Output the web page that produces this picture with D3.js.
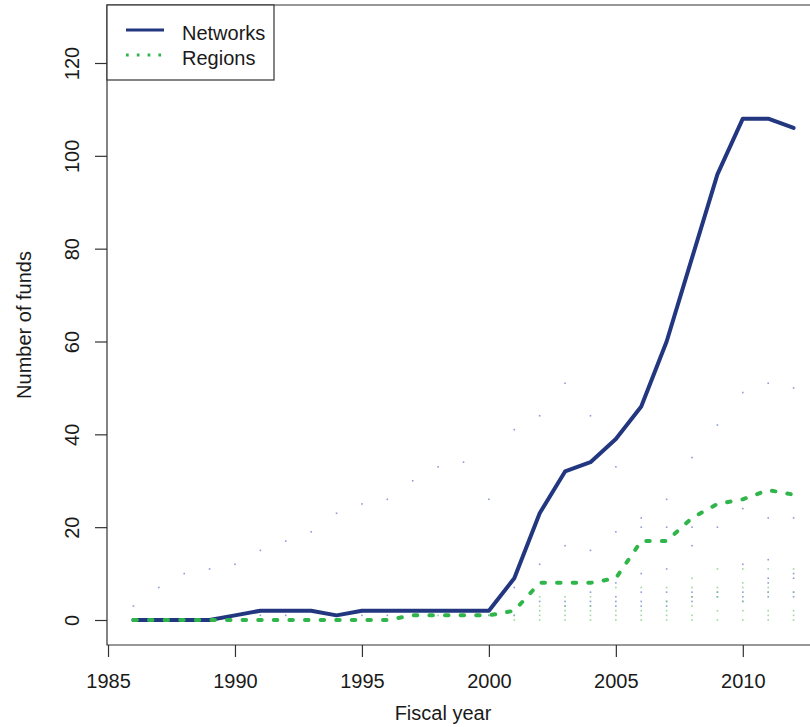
<!DOCTYPE html>
<html>
<head>
<meta charset="utf-8">
<script src="https://cdn.jsdelivr.net/npm/d3@7"></script>
<style>
  html, body { margin: 0; padding: 0; background: #fff; }
  svg { display: block; font-family: "Liberation Sans", Arial, sans-serif; }
</style>
</head>
<body>
<svg id="chart" width="810" height="727"></svg>
<script>
// ---- data ----
const years = d3.range(1986, 2013);
const networks = [0,0,0,0,1,2,2,2,1,2,2,2,2,2,2,9,23,32,34,39,46,60,78,96,108,108,106];
const regions  = [0,0,0,0,0,0,0,0,0,0,0,1,1,1,1,2,8,8,8,9,17,17,22,25,26,28,27];
const seriesNames = ["Networks", "Regions"];
const xTicks = [1985, 1990, 1995, 2000, 2005, 2010];
const yTicks = [0, 20, 40, 60, 80, 100, 120];
// faint individual points
const networkPoints = [
  [1986,3],[1987,7],[1988,10],[1989,11],[1990,12],[1991,15],[1992,17],[1993,19],[1994,23],[1995,25],
  [1996,26],[1997,30],[1998,33],[1999,34],[2000,26],[2001,41],[2002,44],[2003,51],[2004,44],[2005,33],
  [2006,22],[2007,26],[2008,35],[2009,42],[2010,49],[2011,51],[2012,50],
  [2001,7],[2002,12],[2003,16],[2004,15],[2005,19],[2006,20],[2007,20],[2008,16],[2009,20],[2010,24],[2011,22],[2012,22],
  [2006,10],[2007,11],[2008,20],[2010,12],[2011,13],[2011,9],[2012,10],
  [1991,1],[1992,1],[1995,1],[1996,1],[1999,1],[2000,1],[2001,1],
  [2002,4],[2003,4],[2003,3],[2004,6],[2004,4],[2004,3],[2005,8],[2005,5],[2005,4],[2005,3],
  [2006,6],[2006,4],[2006,3],[2007,6],[2007,4],[2007,3],[2008,6],[2008,5],[2008,4],[2009,6],[2009,5],
  [2010,6],[2010,5],[2010,4],[2011,6],[2011,5],[2011,8],[2012,9],[2012,6],[2012,5]
];
const regionPoints = [
  [1997,1],[1998,1],[1999,1],[2000,1],
  [2001,0],[2002,0],[2003,0],[2004,0],[2005,0],[2006,0],[2007,0],[2008,0],[2009,0],[2010,0],[2011,0],[2012,0],
  [2001,1],[2002,1],[2002,2],[2002,3],[2002,5],[2003,1],[2003,2],[2003,3],[2003,5],[2004,1],[2004,2],[2004,3],[2004,5],
  [2005,1],[2005,2],[2005,7],[2006,1],[2006,2],[2006,7],[2007,1],[2007,2],[2007,4],[2007,7],
  [2008,1],[2008,3],[2008,5],[2008,7],[2008,9],[2009,2],[2009,5],[2009,6],[2009,7],[2009,11],
  [2010,2],[2010,4],[2010,7],[2010,8],[2010,11],[2011,1],[2011,2],[2011,6],[2011,7],[2011,11],
  [2012,1],[2012,2],[2012,6],[2012,11]
];

const colNet = "#22377f", colReg = "#2fb54a";
const textCol = "#1a1a1a", axisCol = "#333";

const svg = d3.select("#chart");
const box = {left: 107, top: 5, bottom: 645, right: 820};

const x = d3.scaleLinear().domain([1984.96, 2013.04]).range([box.left, box.right]);
const y = d3.scaleLinear().domain([0, 120]).range([620, 63]);

svg.append("defs").append("clipPath").attr("id", "clip")
  .append("rect").attr("x", box.left).attr("y", box.top)
  .attr("width", 810 - box.left).attr("height", box.bottom - box.top);

const plot = svg.append("g").attr("clip-path", "url(#clip)");

// faint points
plot.selectAll("rect.np").data(networkPoints).enter().append("rect")
  .attr("x", d => x(d[0]) - 0.8).attr("y", d => y(d[1]) - 0.8)
  .attr("width", 1.6).attr("height", 1.6).attr("fill", "#5a74c8").attr("opacity", 0.7);
plot.selectAll("rect.rp").data(regionPoints).enter().append("rect")
  .attr("x", d => x(d[0]) - 0.8).attr("y", d => y(d[1]) - 0.8)
  .attr("width", 1.6).attr("height", 1.6).attr("fill", "#74c874").attr("opacity", 0.7);

const line = d3.line().x(d => x(d[0])).y(d => y(d[1]));

plot.append("path")
  .datum(years.map((yr, i) => [yr, networks[i]]))
  .attr("d", line).attr("fill", "none")
  .attr("stroke", colNet).attr("stroke-width", 4)
  .attr("stroke-linejoin", "round").attr("stroke-linecap", "round");

plot.append("path")
  .datum(years.map((yr, i) => [yr, regions[i]]))
  .attr("d", line).attr("fill", "none")
  .attr("stroke", colReg).attr("stroke-width", 4)
  .attr("stroke-dasharray", "3.5,12.1")
  .attr("stroke-linejoin", "round").attr("stroke-linecap", "round");

// box (left, top, bottom; right cropped)
svg.append("path")
  .attr("d", `M810,${box.top}H${box.left}V${box.bottom}H810`)
  .attr("fill", "none").attr("stroke", axisCol).attr("stroke-width", 1.2);

// y axis
const yAxis = d3.axisLeft(y).tickValues(yTicks).tickSize(12).tickPadding(0).tickFormat(d3.format("d"));
const gy = svg.append("g").attr("transform", `translate(${box.left},0)`).call(yAxis);
gy.select(".domain").remove();
gy.selectAll(".tick line").attr("stroke", axisCol).attr("stroke-width", 1.2);
gy.selectAll(".tick text")
  .attr("x", 0).attr("dy", null)
  .attr("transform", "translate(-28,0) rotate(-90)")
  .attr("text-anchor", "middle").attr("y", 0)
  .attr("fill", textCol).style("font-size", "20px");

// x axis
const xAxis = d3.axisBottom(x).tickValues(xTicks).tickSize(12).tickPadding(0).tickFormat(d3.format("d"));
const gx = svg.append("g").attr("transform", `translate(0,${box.bottom})`).call(xAxis);
gx.select(".domain").remove();
gx.selectAll(".tick line").attr("stroke", axisCol).attr("stroke-width", 1.2);
gx.selectAll(".tick text")
  .attr("y", 43).attr("dy", null)
  .attr("fill", textCol).style("font-size", "20px");

// axis titles
svg.append("text").attr("x", 443).attr("y", 720)
  .attr("text-anchor", "middle").attr("fill", textCol).style("font-size", "20px")
  .text("Fiscal year");
svg.append("text").attr("transform", `translate(31,${(box.top + box.bottom) / 2}) rotate(-90)`)
  .attr("text-anchor", "middle").attr("fill", textCol).style("font-size", "20px")
  .text("Number of funds");

// legend
const lg = svg.append("g");
lg.append("rect").attr("x", 107).attr("y", 5).attr("width", 167).attr("height", 75)
  .attr("fill", "#fff").attr("stroke", axisCol).attr("stroke-width", 1.2);
const legendItems = [
  {name: seriesNames[0], color: colNet, dash: null, y: 30},
  {name: seriesNames[1], color: colReg, dash: "2.7,8.1", y: 55}
];
legendItems.forEach(it => {
  lg.append("line").attr("x1", 126).attr("x2", 164).attr("y1", it.y).attr("y2", it.y)
    .attr("stroke", it.color).attr("stroke-width", 2.8)
    .attr("stroke-dasharray", it.dash);
  lg.append("text").attr("x", 182).attr("y", it.y + 10)
    .attr("fill", textCol).style("font-size", "20px").text(it.name);
});
</script>
</body>
</html>
